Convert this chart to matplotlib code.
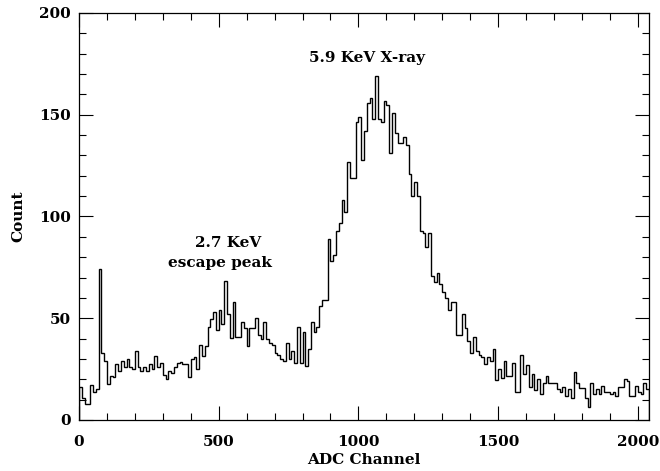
import matplotlib
matplotlib.use('Agg')
import matplotlib.pyplot as plt
import numpy as np
from matplotlib.ticker import MultipleLocator

# ADC spectrum, 10 channels per bin, 0..2040
bin_width = 10
counts_low = [16, 11, 8, 8, 17, 14, 15, 74, 33, 29,
              17.5, 21.7, 21, 27.6, 24, 29, 26, 30, 26, 25,
              34, 26, 24, 26, 24, 27.6, 25, 31.5, 26, 28,
              22, 20, 24, 23, 26, 28, 28.5]
counts_escape = [27.6, 27.6, 21, 30, 31, 25, 37, 31.5, 36.5, 45.5,
                 49.6, 53, 44, 54, 47, 68.5, 52, 40.5, 58, 41,
                 41, 48, 45, 36.5, 45, 45, 50, 42, 40, 48,
                 40, 38, 37, 33, 32, 30, 29, 38, 30]
counts_peak = [34, 28, 45.5, 28, 43, 26.5, 35, 48, 43, 45.5,
               56, 59, 59, 89, 78, 81, 93, 97, 108, 102,
               127, 119, 119, 146.5, 149, 128, 142, 156, 158, 148,
               169, 148, 146.5, 157, 155, 131, 151, 141, 136, 136,
               139, 135, 121, 110, 117, 110, 93, 92, 85, 92,
               71, 68, 72, 67, 63, 60, 54, 58, 58]
counts_tail = [42, 42, 52, 45, 39, 33, 41, 34, 32, 31,
               27.4, 31, 29, 34.8, 19.5, 25, 20.5, 29, 21.6, 21.6,
               28, 14, 14, 32, 22.5, 27, 16.3, 22.8, 14.8, 20,
               13, 18, 21.6, 18, 18, 18, 15, 14, 16, 12,
               15, 11, 23.8, 18, 15.6, 15.6, 11, 6.5, 18, 13,
               15, 13, 16.7, 14, 14, 13, 14, 12, 16, 16,
               20, 19, 12, 12, 16.7, 14, 13, 18, 15]

counts = np.array(counts_low + counts_escape + counts_peak + counts_tail)
edges = np.arange(len(counts) + 1) * bin_width

labels = ['5.9 KeV X-ray', '2.7 KeV', 'escape peak']
label_x = [1030, 532, 505]
label_y = [178, 87, 77]

plt.rcParams['font.family'] = 'DejaVu Serif'
plt.rcParams['font.size'] = 11
plt.rcParams['font.weight'] = 'bold'
plt.rcParams['axes.labelweight'] = 'bold'

fig = plt.figure(figsize=(6.6, 4.71), dpi=100)
ax = fig.add_axes([0.1197, 0.1083, 0.8636, 0.8641])

ax.stairs(counts, edges, color='black', linewidth=1.0)

ax.set_xlim(0, edges[-1])
ax.set_ylim(0, 200)
ax.xaxis.set_major_locator(MultipleLocator(500))
ax.xaxis.set_minor_locator(MultipleLocator(100))
ax.yaxis.set_major_locator(MultipleLocator(50))
ax.yaxis.set_minor_locator(MultipleLocator(10))
ax.tick_params(which='both', direction='in', top=True, right=True, width=0.8)
ax.tick_params(which='major', length=10)
ax.tick_params(axis='x', which='major', pad=11)
ax.tick_params(axis='y', which='major', pad=6)
ax.tick_params(which='minor', length=5)
for s in ax.spines.values():
    s.set_linewidth(0.9)

ax.set_xlabel('ADC Channel', labelpad=3)
ax.set_ylabel('Count', labelpad=10)

for t, x, y in zip(labels, label_x, label_y):
    ax.text(x, y, t, ha='center', va='center')

fig.savefig('out.png', dpi=100)
